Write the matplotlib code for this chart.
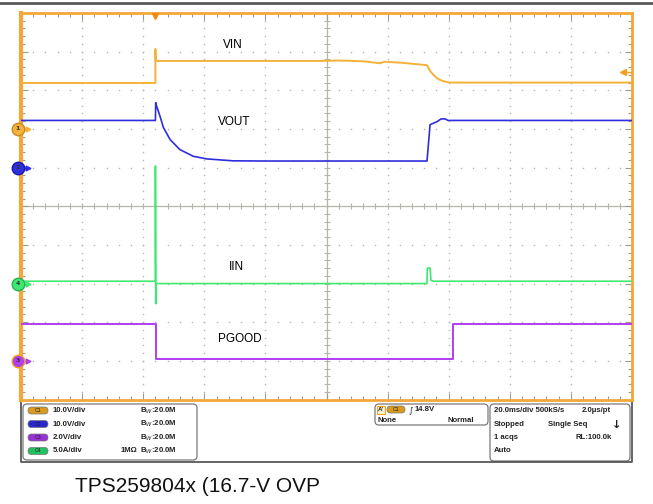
import matplotlib.pyplot as plt
import numpy as np
from matplotlib.patches import FancyBboxPatch, Rectangle

# time base: 20 ms/div, 10 divisions
t_div = 20.0

# channel settings: (volts or amps per div, ground position in divisions)
vin_scale, vin_off = 10.0, 7.0
vout_scale, vout_off = 10.0, 6.0
pg_scale, pg_off = 2.0, 1.0
iin_scale, iin_off = 5.0, 3.0

# VIN (V)
vin_t = [0, 44.0, 44.0, 44.1, 68, 98, 104, 108.7, 112, 117.5, 119.1, 125, 132.9, 133.9, 135.0, 136.2, 138.0, 140.4, 200]
vin_v = [11.9, 11.9, 20.7, 17.6, 17.6, 17.6, 17.7, 17.6, 17.5, 17.0, 17.4, 17.1, 16.5, 15.0, 14.0, 13.1, 12.4, 12.0, 12.0]

# VOUT (V)
vout_t = [0, 44.0, 44.1, 44.4, 45.5, 46.6, 48.8, 52.0, 56.4, 60.8, 69.4, 80.0, 132.9, 133.9, 136.2, 137.5, 138.8, 139.8, 200]
vout_v = [12.2, 12.2, 16.8, 15.9, 13.3, 10.4, 7.25, 4.66, 2.93, 2.25, 1.75, 1.7, 1.7, 11.1, 11.9, 12.6, 12.6, 12.2, 12.2]

# IIN (A)
iin_t = [0, 44.0, 44.0, 44.1, 44.2, 132.9, 133.0, 133.9, 134.2, 135.0, 200]
iin_a = [0.3, 0.3, 15.2, -2.6, 0.0, 0.0, 2.0, 2.0, 0.4, 0.3, 0.3]

# PGOOD (V)
pg_t = [0, 44.2, 44.2, 141.4, 141.4, 200]
pg_v = [1.92, 1.92, 0.07, 0.07, 1.92, 1.92]

trig_t, trig_level = 44.0, 14.8

c_vin = '#F6B13A'
c_vout = '#2E2EDC'
c_iin = '#3FE870'
c_pg = '#B13EF0'
c_frame = '#F5A83A'

W, H = 653, 504
fig = plt.figure(figsize=(W / 100, H / 100), dpi=100)

deco = fig.add_axes([0, 0, 1, 1])
deco.set_xlim(0, W)
deco.set_ylim(H, 0)
deco.axis('off')

ax = fig.add_axes([21 / W, (H - 399.5) / H, 611 / W, 386.5 / H])
ax.set_xlim(0, 10 * t_div)
ax.set_ylim(0, 10)
ax.set_facecolor('white')

# graticule
gcol = '#B5B5AA'
for xg in np.arange(t_div, 10 * t_div, t_div):
    if xg == 5 * t_div:
        continue
    ys = np.arange(0, 10.01, 0.2)
    ax.plot(np.full(len(ys), xg), ys, ls='none', marker='s', ms=1.0, color=gcol, mew=0, zorder=1)
for yg in range(1, 10):
    if yg == 5:
        continue
    xs = np.arange(0, 10 * t_div + 0.01, t_div / 5)
    ax.plot(xs, np.full(len(xs), yg), ls='none', marker='s', ms=1.0, color=gcol, mew=0, zorder=1)
ax.axhline(5, color=gcol, lw=0.9, zorder=1)
ax.axvline(5 * t_div, color=gcol, lw=0.9, zorder=1)
xs = np.arange(0, 10 * t_div + 0.01, t_div / 5)
ax.plot(xs, np.full(len(xs), 5), ls='none', marker='|', ms=4, mew=0.8, color=gcol, zorder=1)
ys = np.arange(0, 10.01, 0.2)
ax.plot(np.full(len(ys), 5 * t_div), ys, ls='none', marker='_', ms=4, mew=0.8, color=gcol, zorder=1)

ax.set_xticks(np.arange(0, 10 * t_div + 1, t_div))
ax.set_xticks(np.arange(0, 10 * t_div + 1, t_div / 5), minor=True)
ax.set_yticks(np.arange(0, 11, 1))
ax.set_yticks(np.arange(0, 10.01, 0.2), minor=True)
ax.tick_params(which='both', direction='in', top=True, right=True, left=True, bottom=True,
               labelleft=False, labelbottom=False, color='#9A9A90', width=0.8)
ax.tick_params(which='major', length=5)
ax.tick_params(which='minor', length=3)
for s in ax.spines.values():
    s.set_color(c_frame)
    s.set_linewidth(2)
ax.spines['left'].set_linewidth(3)

# traces
ax.plot(vin_t, vin_off + np.array(vin_v) / vin_scale, color=c_vin, lw=1.4, zorder=3)
ax.plot(vout_t, vout_off + np.array(vout_v) / vout_scale, color=c_vout, lw=1.2, zorder=3)
ax.plot(iin_t, iin_off + np.array(iin_a) / iin_scale, color=c_iin, lw=1.2, zorder=3)
ax.plot(pg_t, pg_off + np.array(pg_v) / pg_scale, color=c_pg, lw=1.4, zorder=3)

# trace labels
lab_font = 'Liberation Sans'
ax.text(69.4, 9.18, 'VIN', fontsize=8.5, family=lab_font, ha='center', va='center')
ax.text(69.7, 7.19, 'VOUT', fontsize=8.5, family=lab_font, ha='center', va='center')
ax.text(70.4, 3.43, 'IIN', fontsize=8.5, family=lab_font, ha='center', va='center')
ax.text(71.7, 1.57, 'PGOOD', fontsize=8.5, family=lab_font, ha='center', va='center')

# channel ground markers
for off, col, edge, num in [(vin_off, c_vin, '#C98A20', '1'), (vout_off, c_vout, '#1818B0', '2'),
                            (iin_off, c_iin, '#28B050', '4'), (pg_off, c_pg, '#F0A020', '3')]:
    ax.plot([0.3, 2.0], [off, off], color=col, lw=1, clip_on=False, zorder=5)
    ax.plot(2.3, off, marker='>', ms=3.5, color=col, clip_on=False, zorder=5)
    ax.plot(-1.0, off, marker='o', ms=9, mfc=col, mec=edge, mew=1, clip_on=False, zorder=6)
    ax.text(-1.0, off, num, fontsize=4.5, ha='center', va='center', color='#333333', zorder=7,
            fontweight='bold')

# trigger position and level markers
ax.plot(trig_t, 9.93, marker='v', ms=5, color='#F08A10', clip_on=False, zorder=6)
lvl = vin_off + trig_level / vin_scale
ax.plot([197.6, 199.6], [lvl, lvl], color='#F0A020', lw=1, zorder=6)
ax.plot(197.2, lvl, marker='<', ms=4, color='#F0A020', zorder=6)

# top rule
deco.plot([0, W], [3, 3], color='#5A5A5A', lw=2)

# status area
deco.plot([21, 21, 632, 632], [401, 462, 462, 401], color='#4A4A4A', lw=1.2)


def box(x0, y0, x1, y1):
    deco.add_patch(FancyBboxPatch((x0, y0), x1 - x0, y1 - y0, boxstyle='round,pad=0,rounding_size=4',
                                  fc='white', ec='#7A7A7A', lw=0.9))


def badge(x, y, col, txt, w=20):
    deco.add_patch(FancyBboxPatch((x, y - 3.5), w, 7, boxstyle='round,pad=0,rounding_size=3.5',
                                  fc=col, ec='#777777', lw=0.5))
    deco.text(x + w / 2, y, txt, fontsize=3.8, ha='center', va='center', color='#222222',
              family='Liberation Sans')


sfont = dict(fontsize=5.6, fontweight='bold', color='#222222', va='center', family='Liberation Sans')

box(23, 404, 197, 460)
rows = [(410.5, '#D99A1E', 'C1', '10.0V/div', ''), (424, '#2828D0', 'C2', '10.0V/div', ''),
        (437.5, '#9A30D8', 'C3', '2.0V/div', ''), (451, '#22C060', 'C4', '5.0A/div', '1M\u03a9')]
for y, col, ch, scale_txt, imp in rows:
    badge(28, y, col, ch)
    deco.text(53, y, scale_txt, ha='left', **sfont)
    deco.text(140, y, 'B$_W$:20.0M', ha='left', **sfont)
    if imp:
        deco.text(137, y, imp, ha='right', **sfont)

box(375, 404, 488, 425)
deco.add_patch(Rectangle((376.5, 405.5), 8, 8, fc='#FFF4D8', ec='#F0A020', lw=0.8))
deco.text(380.5, 409.5, "A'", ha='center', **dict(sfont, fontsize=4.5))
badge(387, 409.5, '#D99A1E', 'C1', w=18)
deco.text(409, 409.5, '\u222b', ha='left', **dict(sfont, fontweight='normal', fontsize=6, family='DejaVu Sans'))
deco.text(415, 409.5, '14.8V', ha='left', **sfont)
deco.text(378, 420, 'None', ha='left', **sfont)
deco.text(474, 420, 'Normal', ha='right', **sfont)

box(490, 404, 630, 461)
deco.text(494, 410.5, '20.0ms/div 500kS/s', ha='left', **sfont)
deco.text(611, 410.5, '2.0\u03bcs/pt', ha='right', **sfont)
deco.text(494, 424, 'Stopped', ha='left', **sfont)
deco.text(548, 424, 'Single Seq', ha='left', **sfont)
deco.text(617, 425, '\u2193', ha='center', **dict(sfont, fontsize=8, family='DejaVu Sans'))
deco.text(494, 437.5, '1 acqs', ha='left', **sfont)
deco.text(612, 437.5, 'RL:100.0k', ha='right', **sfont)
deco.text(494, 451, 'Auto', ha='left', **sfont)

deco.text(75, 487, 'TPS259804x (16.7-V OVP', fontsize=15, family='Liberation Sans',
          ha='left', va='center', color='#111111')

fig.savefig('out.png', dpi=100)
